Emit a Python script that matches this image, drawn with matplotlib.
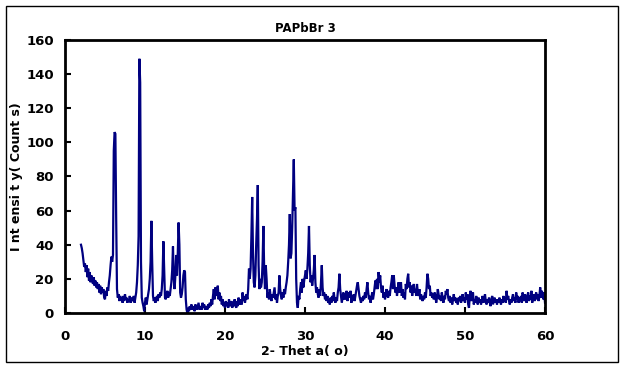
import numpy as np
import matplotlib
matplotlib.use("Agg")
import matplotlib.pyplot as plt
from matplotlib.patches import Rectangle

# 2-theta start and step (degrees)
theta_start = 2.0
theta_step = 0.1

# intensity (counts), one row per degree starting at 2.0
intensity_rows = [
    [40, 38, 35, 31, 27, 29, 24, 28, 21, 26],   # 2
    [19, 24, 18, 22, 20, 17, 21, 16, 19, 15],   # 3
    [18, 14, 17, 12, 16, 11, 15, 12, 14, 9],    # 4
    [8, 13, 10, 15, 13, 18, 22, 28, 33, 30],    # 5
    [34, 95, 106, 105, 55, 14, 9, 11, 7, 10],   # 6
    [8, 9, 6, 10, 7, 11, 8, 9, 6, 8],           # 7
    [7, 10, 6, 9, 8, 7, 10, 6, 9, 12],          # 8
    [18, 28, 45, 149, 135, 30, 9, 6, 4, 1],     # 9
    [6, 9, 5, 8, 11, 14, 20, 30, 54, 30],       # 10
    [10, 7, 9, 6, 8, 10, 7, 11, 9, 12],         # 11
    [10, 14, 22, 42, 25, 9, 8, 11, 13, 9],      # 12
    [12, 10, 14, 18, 25, 39, 20, 14, 22, 34],   # 13
    [22, 35, 53, 40, 12, 9, 11, 15, 22, 25],    # 14
    [24, 8, 2, 0, 3, 1, 4, 2, 5, 3],            # 15
    [2, 4, 1, 5, 3, 2, 4, 6, 2, 3],             # 16
    [4, 2, 6, 3, 5, 2, 3, 4, 2, 5],             # 17
    [3, 6, 4, 8, 5, 10, 14, 8, 15, 10],         # 18
    [12, 16, 8, 12, 7, 10, 5, 8, 4, 6],         # 19
    [3, 7, 4, 6, 3, 8, 5, 4, 7, 3],             # 20
    [6, 4, 8, 5, 3, 7, 4, 9, 5, 6],             # 21
    [8, 5, 12, 7, 10, 6, 9, 11, 8, 14],         # 22
    [26, 20, 26, 45, 68, 35, 18, 15, 22, 40],   # 23
    [55, 75, 28, 14, 20, 15, 18, 30, 51, 25],   # 24
    [14, 28, 20, 9, 12, 8, 14, 10, 7, 11],      # 25
    [9, 12, 15, 8, 11, 6, 10, 12, 22, 14],      # 26
    [10, 8, 12, 9, 14, 11, 15, 18, 22, 30],     # 27
    [40, 58, 32, 35, 50, 70, 90, 60, 62, 20],   # 28
    [6, 3, 10, 8, 14, 18, 12, 20, 15, 19],      # 29
    [22, 25, 20, 26, 35, 51, 28, 18, 22, 16],   # 30
    [20, 25, 34, 18, 12, 15, 11, 9, 14, 10],    # 31
    [18, 28, 15, 10, 12, 8, 11, 7, 10, 6],      # 32
    [8, 5, 9, 6, 10, 7, 12, 8, 6, 9],           # 33
    [7, 12, 15, 23, 14, 10, 6, 9, 12, 8],       # 34
    [11, 8, 13, 7, 10, 12, 9, 13, 6, 10],       # 35
    [8, 11, 7, 10, 13, 16, 18, 14, 10, 8],      # 36
    [6, 9, 7, 10, 8, 12, 9, 14, 18, 12],        # 37
    [8, 10, 6, 9, 12, 8, 11, 15, 19, 14],       # 38
    [20, 14, 24, 18, 22, 15, 12, 16, 9, 12],    # 39
    [8, 11, 14, 10, 9, 13, 10, 15, 18, 22],     # 40
    [14, 22, 16, 12, 15, 10, 14, 18, 12, 16],   # 41
    [18, 10, 14, 9, 12, 8, 17, 14, 20, 23],     # 42
    [15, 18, 12, 16, 10, 14, 17, 12, 14, 10],   # 43
    [17, 12, 10, 14, 8, 11, 9, 7, 10, 8],       # 44
    [12, 9, 15, 23, 20, 14, 16, 10, 12, 9],     # 45
    [11, 8, 12, 10, 6, 9, 14, 11, 8, 10],       # 46
    [7, 12, 9, 6, 10, 8, 13, 11, 14, 9],        # 47
    [7, 10, 6, 9, 5, 8, 11, 7, 9, 6],           # 48
    [8, 5, 9, 7, 10, 6, 8, 11, 7, 9],           # 49
    [6, 12, 8, 11, 5, 3, 10, 13, 7, 9],         # 50
    [12, 5, 8, 6, 10, 7, 5, 9, 6, 8],           # 51
    [5, 7, 10, 6, 8, 11, 7, 5, 8, 6],           # 52
    [9, 6, 4, 8, 10, 5, 7, 9, 6, 8],            # 53
    [5, 8, 6, 9, 7, 5, 8, 6, 10, 7],            # 54
    [9, 6, 13, 8, 10, 7, 5, 8, 6, 9],           # 55
    [11, 7, 9, 6, 12, 8, 10, 6, 9, 7],          # 56
    [10, 6, 12, 9, 7, 11, 8, 6, 10, 12],        # 57
    [7, 10, 8, 13, 6, 9, 11, 7, 10, 12],        # 58
    [8, 11, 7, 10, 15, 9, 13, 11, 8, 12],       # 59
    [6],                                        # 60
]

title = "PAPbBr 3"
xlabel = "2- Thet a( o)"
ylabel = "I nt ensi t y( Count s)"
xticks = [0, 10, 20, 30, 40, 50, 60]
yticks = [0, 20, 40, 60, 80, 100, 120, 140, 160]

intensity = np.array([v for row in intensity_rows for v in row], dtype=float)
two_theta = theta_start + theta_step * np.arange(len(intensity))

fig = plt.figure(figsize=(6.23, 3.68), dpi=100)
ax = fig.add_axes([0.1043, 0.1495, 0.7705, 0.7418])

ax.plot(two_theta, intensity, color="#000080", lw=1.6, solid_joinstyle="miter")

ax.set_xlim(0, 60)
ax.set_ylim(0, 160)
ax.set_xticks(xticks)
ax.set_yticks(yticks)
for s in ax.spines.values():
    s.set_linewidth(2)
    s.set_color("black")
ax.tick_params(direction="in", length=4, width=1.5, labelsize=9.5)
ax.tick_params(axis="x", pad=12)
ax.tick_params(axis="y", pad=8)
for lbl in ax.get_xticklabels() + ax.get_yticklabels():
    lbl.set_fontweight("bold")

ax.set_title(title, fontsize=8.5, fontweight="bold", pad=6)
ax.set_xlabel(xlabel, fontsize=9, fontweight="bold", labelpad=2)
ax.set_ylabel(ylabel, fontsize=9, fontweight="bold", labelpad=2)

fig.patches.append(Rectangle((0.0096, 0.0163), 0.9824, 0.9674, transform=fig.transFigure,
                             fill=False, edgecolor="black", lw=1))

fig.savefig("out.png", dpi=100)
